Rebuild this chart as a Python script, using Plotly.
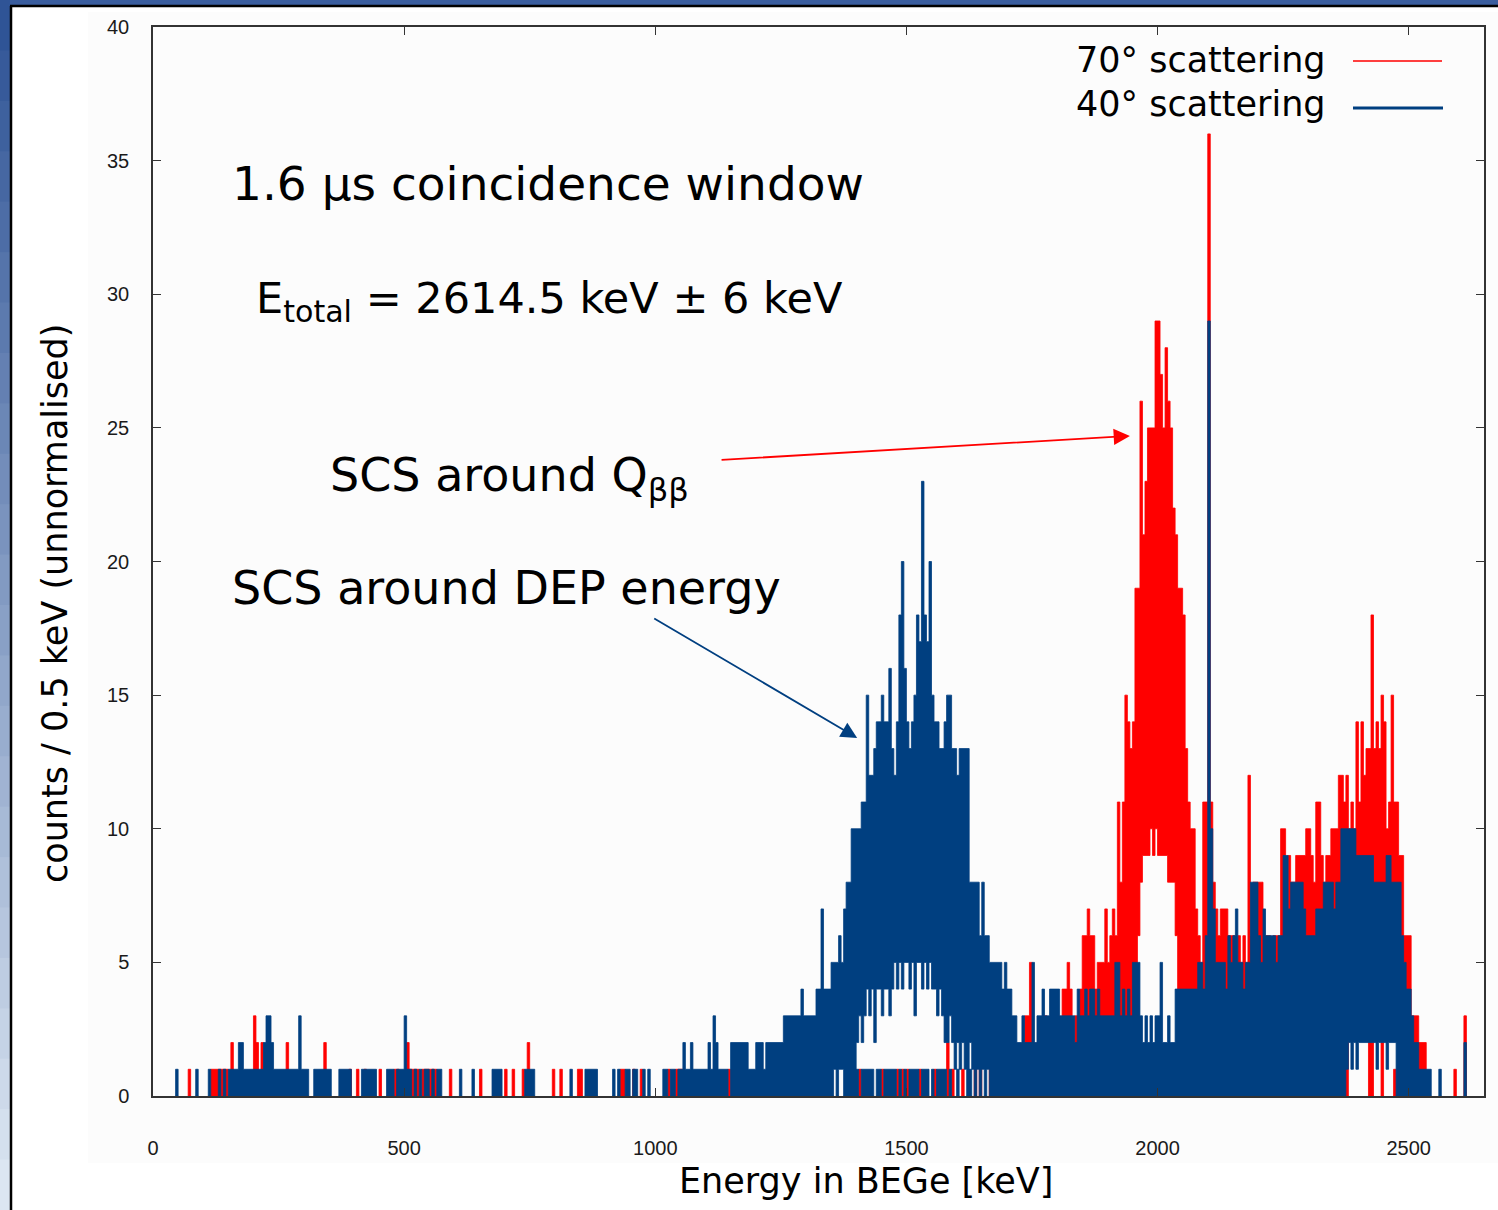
import plotly.graph_objects as go

# Energy spectrum drawn as the per-bin envelope of counts / 0.5 keV,
# summarised on a 5 keV grid (bin i starts at 5*i keV).
BIN_KEV = 5
E_MAX = 2650

blue_hi = [
    0, 0, 0, 0, 0, 0, 0, 0, 0, 1, 0, 0, 0, 0, 0, 0, 0, 1, 0, 0,            # 0-100
    0, 0, 1, 0, 0, 0, 1, 0, 1, 0, 1, 1, 1, 1, 2, 2, 1, 1, 1, 1,            # 100-200
    1, 1, 1, 1, 2, 3, 3, 2, 1, 1, 1, 1, 1, 1, 1, 1, 1, 1, 3, 1,            # 200-300
    1, 1, 0, 0, 1, 1, 1, 1, 1, 1, 1, 0, 0, 0, 1, 1, 1, 1, 1, 0,            # 300-400
    0, 0, 0, 1, 1, 1, 1, 1, 1, 0, 0, 0, 0, 1, 1, 1, 0, 1, 1, 1,            # 400-500
    3, 1, 1, 0, 1, 0, 1, 0, 1, 1, 0, 1, 0, 1, 1, 0, 0, 0, 0, 0,            # 500-600
    0, 0, 1, 0, 0, 0, 0, 1, 0, 0, 0, 0, 0, 0, 0, 1, 1, 1, 1, 0,            # 600-700
    0, 0, 0, 0, 0, 0, 0, 0, 1, 1, 1, 1, 0, 0, 0, 0, 0, 0, 0, 0,            # 700-800
    0, 0, 0, 0, 0, 0, 1, 0, 0, 0, 0, 0, 1, 1, 1, 1, 1, 0, 0, 0,            # 800-900
    0, 0, 0, 1, 0, 1, 0, 0, 1, 1, 0, 1, 1, 0, 0, 1, 0, 1, 0, 0,            # 900-1000
    0, 0, 0, 1, 1, 0, 1, 1, 0, 1, 1, 2, 1, 1, 2, 1, 1, 1, 1, 1,            # 1000-1100
    1, 2, 1, 3, 2, 1, 1, 1, 1, 0, 2, 2, 2, 2, 2, 2, 2, 1, 1, 1,            # 1100-1200
    2, 2, 2, 1, 2, 2, 2, 2, 2, 2, 2, 3, 3, 3, 3, 3, 3, 3, 4, 3,            # 1200-1300
    3, 3, 3, 3, 4, 4, 7, 4, 4, 4, 5, 5, 5, 6, 5, 7, 8, 8, 10, 10,          # 1300-1400
    10, 10, 11, 11, 15, 12, 12, 13, 14, 14, 15, 14, 14, 16, 13, 12, 14, 18, 20, 16,  # 1400-1500
    14, 13, 14, 15, 18, 17, 23, 18, 17, 20, 15, 14, 14, 13, 13, 14, 15, 15, 13, 13,  # 1500-1600
    12, 13, 13, 13, 13, 8, 8, 8, 8, 6, 8, 6, 6, 5, 5, 5, 5, 5, 4, 5,       # 1600-1700
    4, 4, 3, 3, 2, 2, 3, 2, 2, 2, 5, 2, 3, 3, 4, 3, 3, 4, 4, 4,            # 1700-1800
    4, 3, 3, 3, 3, 3, 3, 2, 4, 3, 3, 4, 3, 4, 4, 3, 4, 3, 3, 3,            # 1800-1900
    3, 3, 3, 5, 5, 3, 4, 3, 4, 3, 5, 5, 5, 3, 2, 3, 2, 3, 2, 3,            # 1900-2000
    3, 5, 2, 2, 3, 2, 2, 4, 4, 4, 4, 4, 4, 4, 4, 4, 5, 5, 4, 6,            # 2000-2100
    29, 10, 7, 5, 5, 5, 5, 4, 6, 5, 6, 7, 5, 5, 4, 5, 5, 8, 8, 8,          # 2100-2200
    6, 5, 7, 6, 6, 6, 6, 5, 6, 6, 9, 9, 7, 8, 8, 8, 8, 8, 7, 6,            # 2200-2300
    6, 6, 6, 7, 7, 7, 8, 8, 8, 8, 7, 8, 8, 10, 10, 10, 10, 10, 10, 9,      # 2300-2400
    9, 9, 9, 9, 9, 9, 8, 8, 8, 8, 8, 9, 9, 8, 8, 8, 8, 6, 5, 4,            # 2400-2500
    4, 3, 2, 2, 1, 1, 1, 1, 1, 0, 0, 0, 1, 0, 0, 0, 0, 0, 0, 0,            # 2500-2600
    0, 0, 2, 0, 0, 0, 0, 0, 0, 0,                                          # 2600-2650
]

red_hi = [
    0, 0, 0, 0, 0, 0, 0, 0, 0, 0, 0, 0, 0, 0, 1, 0, 0, 0, 0, 0,            # 0-100
    0, 0, 0, 1, 1, 1, 1, 1, 1, 1, 0, 2, 0, 0, 0, 0, 0, 0, 0, 0,            # 100-200
    3, 2, 0, 2, 0, 0, 0, 0, 0, 0, 0, 0, 0, 2, 0, 0, 0, 0, 0, 0,            # 200-300
    0, 0, 0, 0, 0, 0, 0, 0, 2, 0, 0, 0, 0, 0, 0, 0, 0, 0, 1, 0,            # 300-400
    0, 1, 0, 0, 1, 0, 0, 0, 0, 0, 1, 0, 0, 0, 0, 0, 1, 1, 0, 0,            # 400-500
    0, 2, 1, 1, 1, 1, 0, 1, 1, 1, 1, 1, 1, 0, 0, 0, 0, 0, 1, 0,            # 500-600
    0, 0, 0, 0, 0, 0, 0, 0, 0, 0, 1, 0, 0, 0, 0, 0, 0, 0, 0, 0,            # 600-700
    1, 0, 0, 1, 0, 0, 0, 1, 0, 2, 0, 0, 0, 0, 0, 0, 0, 0, 0, 1,            # 700-800
    0, 0, 1, 0, 0, 0, 0, 0, 0, 1, 1, 0, 0, 0, 0, 0, 0, 0, 0, 0,            # 800-900
    0, 0, 0, 0, 0, 0, 1, 1, 0, 0, 0, 1, 0, 0, 1, 0, 0, 0, 0, 0,            # 900-1000
    0, 0, 0, 0, 0, 1, 0, 0, 1, 1, 1, 0, 0, 0, 0, 0, 0, 0, 0, 0,            # 1000-1100
    0, 0, 0, 0, 0, 0, 0, 0, 0, 1, 0, 0, 0, 0, 0, 0, 0, 0, 0, 0,            # 1100-1200
    0, 0, 0, 0, 0, 0, 0, 0, 0, 0, 0, 0, 0, 0, 0, 0, 0, 0, 0, 0,            # 1200-1300
    0, 0, 0, 0, 0, 0, 0, 0, 0, 0, 0, 0, 0, 0, 0, 0, 1, 0, 0, 0,            # 1300-1400
    0, 1, 0, 0, 0, 0, 0, 0, 0, 0, 1, 0, 0, 0, 0, 0, 1, 0, 1, 0,            # 1400-1500
    1, 0, 0, 0, 0, 1, 0, 0, 0, 0, 0, 1, 0, 0, 0, 0, 2, 0, 1, 0,            # 1500-1600
    0, 0, 1, 0, 0, 0, 0, 1, 0, 1, 0, 0, 0, 1, 0, 0, 0, 0, 0, 0,            # 1600-1700
    0, 0, 0, 0, 0, 0, 0, 3, 3, 5, 2, 0, 2, 0, 3, 3, 0, 0, 3, 3,            # 1700-1800
    3, 0, 4, 4, 5, 4, 0, 3, 3, 4, 6, 6, 7, 6, 6, 4, 5, 5, 5, 7,            # 1800-1900
    5, 6, 7, 6, 11, 8, 11, 15, 14, 13, 14, 19, 19, 26, 21, 23, 25, 25, 25, 29,  # 1900-2000
    29, 27, 25, 28, 26, 25, 22, 21, 19, 19, 18, 13, 11, 10, 10, 7, 6, 5, 11, 11,  # 2000-2100
    36, 11, 8, 7, 6, 7, 7, 7, 6, 6, 6, 5, 6, 5, 6, 5, 12, 6, 8, 8,         # 2100-2200
    8, 8, 6, 6, 6, 5, 6, 6, 6, 10, 10, 7, 9, 8, 8, 9, 9, 9, 9, 10,         # 2200-2300
    10, 9, 8, 11, 11, 9, 8, 9, 9, 10, 10, 10, 12, 12, 11, 12, 10, 11, 10, 14,  # 2300-2400
    11, 14, 12, 13, 13, 18, 13, 14, 13, 15, 14, 10, 11, 15, 11, 11, 9, 9, 6, 6,  # 2400-2500
    6, 3, 3, 3, 2, 2, 2, 0, 0, 0, 0, 0, 0, 0, 0, 0, 0, 0, 1, 0,            # 2500-2600
    0, 0, 3, 0, 0, 0, 0, 0, 0, 0,                                          # 2600-2650
]

# lower edge of the band where it lifts off the axis (bin start keV -> counts)
blue_lo = {
    1355: 1, 1365: 1, 1370: 1,
    1400: 2, 1405: 3, 1410: 2, 1415: 3, 1420: 4, 1425: 3, 1430: 4, 1435: 2,
    1440: 4, 1445: 4, 1450: 3, 1455: 4, 1460: 4, 1465: 3, 1470: 4, 1475: 5,
    1480: 4, 1485: 5, 1490: 4, 1495: 5, 1500: 5, 1505: 4, 1510: 5, 1515: 3,
    1520: 5, 1525: 5, 1530: 4, 1535: 5, 1540: 4, 1545: 5, 1550: 4, 1555: 4,
    1560: 3, 1565: 4, 1570: 3, 1575: 2, 1580: 2, 1585: 3, 1590: 2, 1595: 1,
    1600: 2, 1605: 1, 1610: 2, 1615: 1, 1625: 2, 1630: 1, 1640: 1, 1650: 1,
    1660: 1,
    2375: 1, 2380: 2, 2385: 1, 2390: 2, 2395: 1, 2400: 2, 2405: 2, 2410: 2,
    2415: 2, 2420: 2, 2425: 2, 2430: 2, 2435: 1, 2440: 2, 2445: 2, 2450: 2,
    2455: 1, 2460: 2, 2465: 2, 2470: 2,
}
red_lo = {
    1955: 3, 1960: 6, 1965: 8, 1970: 9, 1975: 9, 1980: 9, 1985: 10, 1990: 9,
    1995: 10, 2000: 9, 2005: 9, 2010: 9, 2015: 9, 2020: 8, 2025: 8, 2030: 8,
    2035: 6, 2040: 4,
    2375: 5, 2380: 4, 2385: 5, 2390: 4, 2395: 5, 2400: 5, 2405: 7, 2410: 7,
    2415: 7, 2420: 7, 2425: 7, 2430: 7, 2435: 7, 2440: 7, 2445: 7, 2450: 7,
    2455: 6, 2460: 7, 2465: 7, 2470: 7, 2475: 6, 2480: 5,
}
# short bars from zero underneath a lifted band (bin start keV -> counts)
blue_base = {e: 1 for e in [
    1400, 1410, 1415, 1420, 1425, 1430, 1440, 1445, 1455, 1460, 1465, 1470,
    1475, 1485, 1495, 1505, 1510, 1515, 1520, 1530, 1535, 1540, 1550, 1560,
    1565, 1570, 1575, 1585, 1600, 1625]}
red_base = {2375: 3, 2420: 4, 2425: 2, 2445: 2, 2470: 1}

RED = "#ff0000"
BLUE = "#003f80"

# plot-area placement in pixels
FIG_W, FIG_H = 1498, 1210
L, R, T, B = 153, 14, 27, 114
PW, PH = FIG_W - L - R, FIG_H - T - B


def px(xp):
    return (xp - L) / PW


def py(yp):
    return (FIG_H - B - yp) / PH


def step_polygons(bands):
    """bands: list of (bin index, low, high); runs of adjacent bins become
    one filled step outline each, separated by None."""
    xs, ys = [], []
    runs, cur = [], []
    for b in bands:
        if cur and b[0] != cur[-1][0] + 1:
            runs.append(cur)
            cur = []
        cur.append(b)
    if cur:
        runs.append(cur)
    for run in runs:
        top_x, top_y, bot_x, bot_y = [], [], [], []
        for i, low, high in run:
            x0, x1 = i * BIN_KEV, (i + 1) * BIN_KEV
            top_x += [x0, x1]
            top_y += [high, high]
            bot_x += [x0, x1]
            bot_y += [low, low]
        xs += top_x + bot_x[::-1] + [top_x[0], None]
        ys += top_y + bot_y[::-1] + [top_y[0], None]
    return xs, ys


def outline(hi, lo, base):
    main, under = [], []
    for i, h in enumerate(hi):
        e0 = i * BIN_KEV
        low = lo.get(e0, 0)
        if h > low:
            main.append((i, low, h))
        b = base.get(e0, 0)
        if b > 0:
            under.append((i, 0, b))
    x1, y1 = step_polygons(main)
    x2, y2 = step_polygons(under)
    return x1 + x2, y1 + y2


fig = go.Figure()
for name, hi, lo, base, col in [
    ("70° scattering", red_hi, red_lo, red_base, RED),
    ("40° scattering", blue_hi, blue_lo, blue_base, BLUE),
]:
    xs, ys = outline(hi, lo, base)
    fig.add_trace(go.Scatter(x=xs, y=ys, mode="lines", name=name, fill="toself",
                             fillcolor=col, line=dict(color=col, width=0.8),
                             hoverinfo="skip", showlegend=False))

axis_common = dict(
    showline=True, linecolor="#333333", linewidth=1.5, mirror="ticks",
    ticks="inside", ticklen=8, tickwidth=1.3, tickcolor="#333333",
    showgrid=False, zeroline=False,
    tickfont=dict(family="Liberation Sans", size=20, color="#1a1a1a"),
)
fig.update_xaxes(range=[0, E_MAX], tickvals=[0, 500, 1000, 1500, 2000, 2500],
                 ticklabelstandoff=33, **axis_common)
fig.update_yaxes(range=[0, 40], tickvals=[0, 5, 10, 15, 20, 25, 30, 35, 40],
                 ticklabelstandoff=18, **axis_common)

TXT = "DejaVu Sans"
shapes = []
# slide frame: top band, graded left band and black border
shapes.append(dict(type="rect", xref="paper", yref="paper", x0=px(0), x1=px(FIG_W),
                   y0=py(0), y1=py(6), fillcolor="#3a5d9e", line_width=0, layer="below"))
n_band = 24
for k in range(n_band):
    t = k / (n_band - 1)
    c0, c1 = (47, 84, 150), (220, 230, 242)
    col = "rgb(%d,%d,%d)" % tuple(round(a + (b - a) * t) for a, b in zip(c0, c1))
    shapes.append(dict(type="rect", xref="paper", yref="paper", x0=px(0), x1=px(10),
                       y0=py(FIG_H * k / n_band), y1=py(FIG_H * (k + 1) / n_band + 1),
                       fillcolor=col, line_width=0, layer="below"))
shapes.append(dict(type="rect", xref="paper", yref="paper", x0=px(88), x1=px(FIG_W),
                   y0=py(12), y1=py(1163), fillcolor="#fcfcfc", line_width=0, layer="below"))
shapes.append(dict(type="line", xref="paper", yref="paper", x0=px(11), x1=px(11),
                   y0=py(6), y1=py(FIG_H), line=dict(color="black", width=2.5)))
shapes.append(dict(type="line", xref="paper", yref="paper", x0=px(10), x1=px(FIG_W),
                   y0=py(6), y1=py(6), line=dict(color="black", width=2.5)))
# key samples
shapes.append(dict(type="line", xref="paper", yref="paper", x0=px(1353), x1=px(1442),
                   y0=py(61), y1=py(61), line=dict(color=RED, width=1.5)))
shapes.append(dict(type="line", xref="paper", yref="paper", x0=px(1353), x1=px(1443),
                   y0=py(108), y1=py(108), line=dict(color=BLUE, width=3)))

ann = []


def label(text, x, y, size, xanchor="left", angle=0):
    ann.append(dict(text=text, xref="paper", yref="paper", x=px(x), y=py(y),
                    xanchor=xanchor, yanchor="middle", showarrow=False, textangle=angle,
                    font=dict(family=TXT, size=size, color="black")))


label("70° scattering", 1328, 60, 35, xanchor="right")
label("40° scattering", 1328, 104, 35, xanchor="right")
label("1.6 μs coincidence window", 230, 183, 47)
label("E<sub>total</sub> = 2614.5 keV ± 6 keV", 254, 301, 43)
label("SCS around Q<sub>ββ</sub>", 328, 478, 46)
label("SCS around DEP energy", 230, 588, 46)
label("Energy in BEGe [keV]", 866, 1181, 35, xanchor="center")
label("counts / 0.5 keV (unnormalised)", 55, 604, 35, xanchor="center", angle=-90)

# arrows pointing at the two scattering peaks
ann.append(dict(x=1945, y=24.7, ax=1129, ay=23.8, xref="x", yref="y", axref="x", ayref="y",
                text="", showarrow=True, arrowhead=2, arrowsize=1.8, arrowwidth=1.8,
                arrowcolor=RED, standoff=0))
ann.append(dict(x=1402, y=13.4, ax=995, ay=17.9, xref="x", yref="y", axref="x", ayref="y",
                text="", showarrow=True, arrowhead=2, arrowsize=1.8, arrowwidth=1.8,
                arrowcolor=BLUE, standoff=0))

fig.update_layout(
    width=FIG_W, height=FIG_H,
    margin=dict(l=L, r=R, t=T, b=B, pad=0),
    paper_bgcolor="white", plot_bgcolor="rgba(0,0,0,0)",
    shapes=shapes, annotations=ann, showlegend=False,
)

fig.write_html("out.html")
